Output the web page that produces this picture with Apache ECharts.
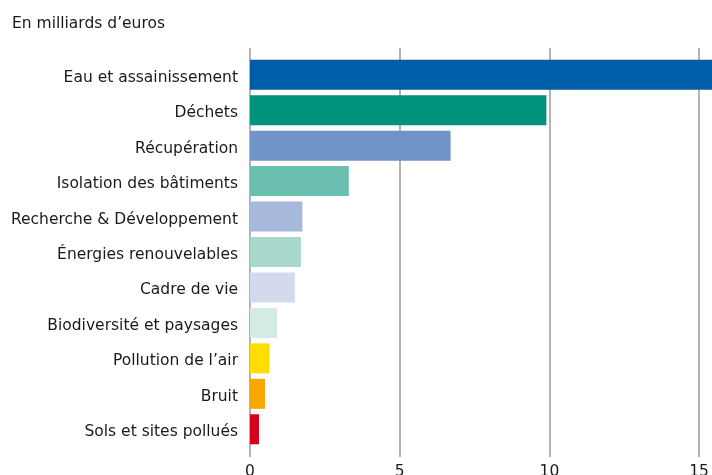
<!DOCTYPE html>
<html>
<head>
<meta charset="utf-8">
<script src="https://cdn.jsdelivr.net/npm/echarts@6/dist/echarts.min.js"></script>
<style>
  html, body { margin: 0; padding: 0; background: #fff; }
  #main { width: 712px; height: 475px; }
</style>
</head>
<body>
<div id="main"></div>
<script>
// categories, top to bottom
var categories = [
    'Eau et assainissement',
    'Déchets',
    'Récupération',
    'Isolation des bâtiments',
    'Recherche & Développement',
    'Énergies renouvelables',
    'Cadre de vie',
    'Biodiversité et paysages',
    'Pollution de l\u2019air',
    'Bruit',
    'Sols et sites pollués'
];

// values in billions of euros
var values = [15.6, 9.9, 6.7, 3.3, 1.75, 1.7, 1.5, 0.9, 0.65, 0.5, 0.3];

var barColors = [
    '#005ea8', '#00937b', '#7094c8', '#6bbfb0', '#a7b8dc', '#a9d8cc',
    '#d3daee', '#d4eae4', '#ffdd00', '#f6a800', '#d4001e'
];

var unitLabel = 'En milliards d\u2019euros';

var FONT = '"DejaVu Sans", sans-serif';

var myChart = echarts.init(document.getElementById('main'));

var barData = values.map(function (v, i) {
    return { value: v, itemStyle: { color: barColors[i] } };
});

myChart.setOption({
    animation: false,
    backgroundColor: '#fff',
    title: {
        text: unitLabel,
        left: 12,
        top: 16,
        padding: 0,
        textStyle: { fontFamily: FONT, fontSize: 15.5, fontWeight: 'normal', color: '#1a1a1a' }
    },
    grid: [
        // grid for the vertical lines and tick labels
        { left: 250, width: 479, top: 48, bottom: 18, outerBoundsMode: 'none', containLabel: false },
        // grid for the bars
        { left: 250, width: 479, top: 57, bottom: 28, outerBoundsMode: 'none', containLabel: false }
    ],
    xAxis: [
        {
            gridIndex: 0,
            type: 'value',
            min: 0,
            max: 16,
            interval: 5,
            axisLine: { show: false },
            axisTick: { show: false },
            axisLabel: {
                fontFamily: FONT,
                fontSize: 15.5,
                color: '#1a1a1a',
                margin: 7,
                formatter: function (v) { return v % 5 === 0 ? String(v) : ''; }
            },
            splitLine: { show: true, lineStyle: { color: '#9a9a9a', width: 1.5 } }
        },
        {
            gridIndex: 1,
            type: 'value',
            min: 0,
            max: 16,
            show: false,
            splitLine: { show: false }
        }
    ],
    yAxis: [
        {
            gridIndex: 0,
            type: 'category',
            data: categories,
            show: false
        },
        {
            gridIndex: 1,
            type: 'category',
            data: categories,
            inverse: true,
            axisLine: { show: false },
            axisTick: { show: false },
            axisLabel: {
                margin: 12,
                formatter: function (v) { return '{a|' + v + '}'; },
                rich: {
                    a: {
                        fontFamily: FONT,
                        fontSize: 15.5,
                        color: '#1a1a1a',
                        padding: [6, 0, 0, 0]
                    }
                }
            }
        }
    ],
    series: [
        {
            type: 'bar',
            xAxisIndex: 1,
            yAxisIndex: 1,
            barWidth: 30,
            data: barData
        }
    ]
});
</script>
</body>
</html>
